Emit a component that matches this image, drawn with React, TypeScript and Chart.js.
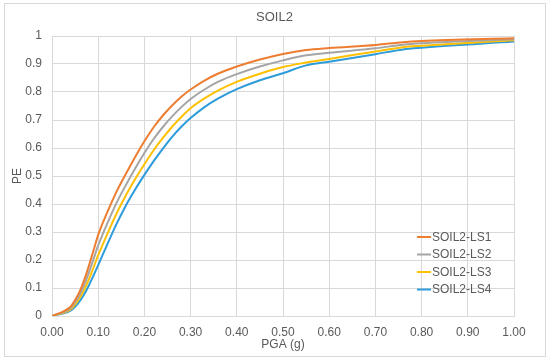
import React, { useEffect, useRef } from "react";
import { Chart, registerables } from "chart.js";

Chart.register(...registerables);

const pga = [0, 0.04, 0.05, 0.06, 0.07, 0.08, 0.09, 0.1, 0.12, 0.14, 0.16, 0.18, 0.2, 0.22, 0.24, 0.26, 0.28, 0.3, 0.33, 0.36, 0.4, 0.45, 0.5, 0.55, 0.6, 0.7, 0.76, 0.8, 1.0];
const ls1 = [0, 0.033, 0.057, 0.088, 0.13, 0.18, 0.235, 0.29, 0.372, 0.445, 0.508, 0.568, 0.624, 0.674, 0.716, 0.752, 0.783, 0.809, 0.841, 0.866, 0.891, 0.916, 0.936, 0.95, 0.957, 0.968, 0.978, 0.982, 0.992];
const ls2 = [0, 0.028, 0.049, 0.076, 0.112, 0.156, 0.204, 0.252, 0.332, 0.405, 0.468, 0.527, 0.582, 0.632, 0.675, 0.713, 0.746, 0.775, 0.809, 0.837, 0.864, 0.891, 0.913, 0.931, 0.94, 0.956, 0.969, 0.974, 0.988];
const ls3 = [0, 0.023, 0.041, 0.064, 0.095, 0.132, 0.174, 0.217, 0.294, 0.367, 0.431, 0.489, 0.542, 0.592, 0.636, 0.676, 0.711, 0.742, 0.777, 0.806, 0.836, 0.865, 0.889, 0.905, 0.918, 0.945, 0.96, 0.965, 0.985];
const ls4 = [0, 0.019, 0.033, 0.053, 0.079, 0.11, 0.145, 0.182, 0.257, 0.33, 0.395, 0.452, 0.504, 0.553, 0.598, 0.64, 0.676, 0.707, 0.746, 0.777, 0.81, 0.842, 0.867, 0.895, 0.908, 0.935, 0.952, 0.958, 0.98];

const seriesLabels = ["SOIL2-LS1", "SOIL2-LS2", "SOIL2-LS3", "SOIL2-LS4"];
const seriesColors = ["#ED7D31", "#A5A5A5", "#FFC000", "#2E9BDA"];
const seriesValues = [ls1, ls2, ls3, ls4];

const FONT = "'Liberation Sans', Arial, sans-serif";
const TEXT = "#595959";

const framePlugin = {
  id: "frame",
  beforeDraw(chart: any) {
    const ctx = chart.ctx;
    ctx.save();
    ctx.fillStyle = "#ffffff";
    ctx.fillRect(0, 0, chart.width, chart.height);
    ctx.strokeStyle = "#d9d9d9";
    ctx.lineWidth = 1;
    ctx.strokeRect(4.5, 3.5, 541, 353);
    ctx.restore();
  },
  afterDraw(chart: any) {
    const ctx = chart.ctx;
    ctx.save();
    ctx.fillStyle = TEXT;
    ctx.font = `13px ${FONT}`;
    ctx.textAlign = "center";
    ctx.textBaseline = "middle";
    ctx.fillText("SOIL2", 274.5, 17);
    ctx.font = `12px ${FONT}`;
    ctx.textAlign = "left";
    const rows = [237, 254.5, 272, 289.5];
    chart.data.datasets.forEach((ds: any, i: number) => {
      const y = rows[i];
      ctx.strokeStyle = ds.borderColor;
      ctx.lineWidth = 2;
      ctx.beginPath();
      ctx.moveTo(417, y);
      ctx.lineTo(431, y);
      ctx.stroke();
      ctx.fillStyle = TEXT;
      ctx.fillText(ds.label, 432, y + 0.5);
    });
    ctx.restore();
  },
};

export default function App() {
  const ref = useRef<HTMLCanvasElement>(null);
  useEffect(() => {
    if (!ref.current) return;
    const chart = new Chart(ref.current, {
      type: "line",
      data: {
        datasets: seriesValues.map((vals, i) => ({
          label: seriesLabels[i],
          data: pga.map((x, j) => ({ x, y: vals[j] })),
          borderColor: seriesColors[i],
          backgroundColor: seriesColors[i],
          borderWidth: 2,
          pointRadius: 0,
          cubicInterpolationMode: "monotone" as const,
          fill: false,
        })),
      },
      options: {
        responsive: false,
        animation: false,
        devicePixelRatio: 1,
        layout: { padding: { left: 0, right: 36, top: 36, bottom: 0 } },
        plugins: {
          legend: { display: false },
          title: { display: false },
          tooltip: { enabled: false },
        },
        scales: {
          x: {
            type: "linear",
            min: 0,
            max: 1,
            ticks: {
              stepSize: 0.1,
              color: TEXT,
              font: { family: FONT, size: 12 },
              padding: 9,
              maxRotation: 0,
              callback: (v: any) => Number(v).toFixed(2),
            },
            grid: { color: "#d9d9d9", drawTicks: false },
            border: { color: "#d9d9d9" },
            title: {
              display: true,
              text: "PGA (g)",
              color: TEXT,
              font: { family: FONT, size: 12 },
              padding: { top: 0, bottom: 9 },
            },
            afterFit: (scale: any) => {
              scale.height = 45;
            },
          },
          y: {
            type: "linear",
            min: 0,
            max: 1,
            ticks: {
              stepSize: 0.1,
              color: TEXT,
              font: { family: FONT, size: 12 },
              padding: 10,
              callback: (v: any) => String(Number(Number(v).toFixed(1))),
            },
            grid: { color: "#d9d9d9", drawTicks: false },
            border: { color: "#d9d9d9" },
            title: {
              display: true,
              text: "PE",
              color: TEXT,
              font: { family: FONT, size: 12 },
              padding: { top: 10, bottom: 0 },
            },
            afterFit: (scale: any) => {
              scale.width = 52;
            },
          },
        },
      },
      plugins: [framePlugin],
    });
    return () => chart.destroy();
  }, []);
  return (
    <div style={{ position: "absolute", left: 0, top: 0, width: 550, height: 361 }}>
      <canvas ref={ref} width={550} height={361} style={{ display: "block" }} />
    </div>
  );
}
